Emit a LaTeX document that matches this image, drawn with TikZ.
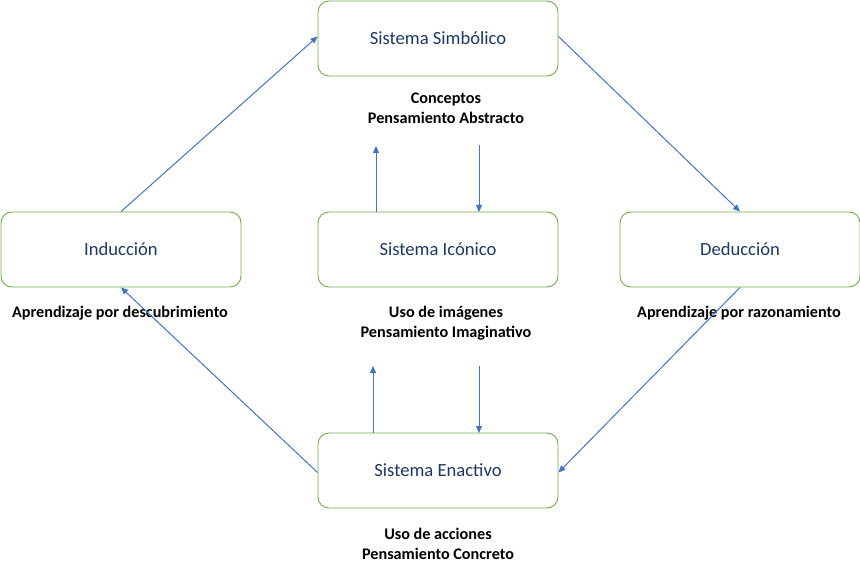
\documentclass[tikz,border=0pt]{standalone}
\usepackage{fontspec}
\setmainfont{Carlito}
\usetikzlibrary{arrows.meta}
\definecolor{boxgreen}{HTML}{70AD47}
\definecolor{arrowblue}{HTML}{4472C4}
\definecolor{boxtext}{HTML}{1F3864}
\tikzset{
  sysbox/.style={draw=boxgreen, line width=0.9pt, rounded corners=11pt, fill=white,
    minimum width=240pt, minimum height=75pt, text=boxtext, font=\fontsize{18.6}{22}\selectfont, inner sep=0pt},
  lbl/.style={font=\bfseries\fontsize{16.2}{20}\selectfont, align=center, text=black, inner sep=0pt},
  conn/.style={draw=arrowblue, line width=1pt, -{Triangle[length=7pt,width=6pt]}}
}
\begin{document}
\begin{tikzpicture}[x=1pt,y=-1pt]
\useasboundingbox (0,0) rectangle (860,575);
\node[sysbox] (simb) at (438,38.5) {Sistema Simbólico};
\node[sysbox] (ind) at (121,249.5) {Inducción};
\node[sysbox] (ico) at (438,249.5) {Sistema Icónico};
\node[sysbox] (ded) at (740,249.5) {Deducción};
\node[sysbox] (ena) at (438,470.5) {Sistema Enactivo};

\node[lbl] (lsimb) at (446,108) {Conceptos\\Pensamiento Abstracto};
\node[lbl] (lind) at (120,313) {Aprendizaje por descubrimiento};
\node[lbl] (lico) at (446,323) {Uso de imágenes\\Pensamiento Imaginativo};
\node[lbl] (lded) at (739,313) {Aprendizaje por razonamiento};
\node[lbl] (lena) at (438,544) {Uso de acciones\\Pensamiento Concreto};

\coordinate (u1s) at (376,212);
\coordinate (u1e) at (376,146);
\coordinate (d1s) at (479,145);
\coordinate (d1e) at (479,212);
\coordinate (u2s) at (373,433);
\coordinate (u2e) at (373,366);
\coordinate (d2s) at (479,366);
\coordinate (d2e) at (479,433);

\draw[conn] (ind.north) -- ([yshift=2pt]simb.west);
\draw[conn] ([yshift=2pt]simb.east) -- (ded.north);
\draw[conn] (ded.south) -- ([yshift=-2pt]ena.east);
\draw[conn] ([yshift=-2pt]ena.west) -- (ind.south);

\draw[conn] (u1s) -- (u1e);
\draw[conn] (d1s) -- (d1e);
\draw[conn] (u2s) -- (u2e);
\draw[conn] (d2s) -- (d2e);
\end{tikzpicture}
\end{document}
